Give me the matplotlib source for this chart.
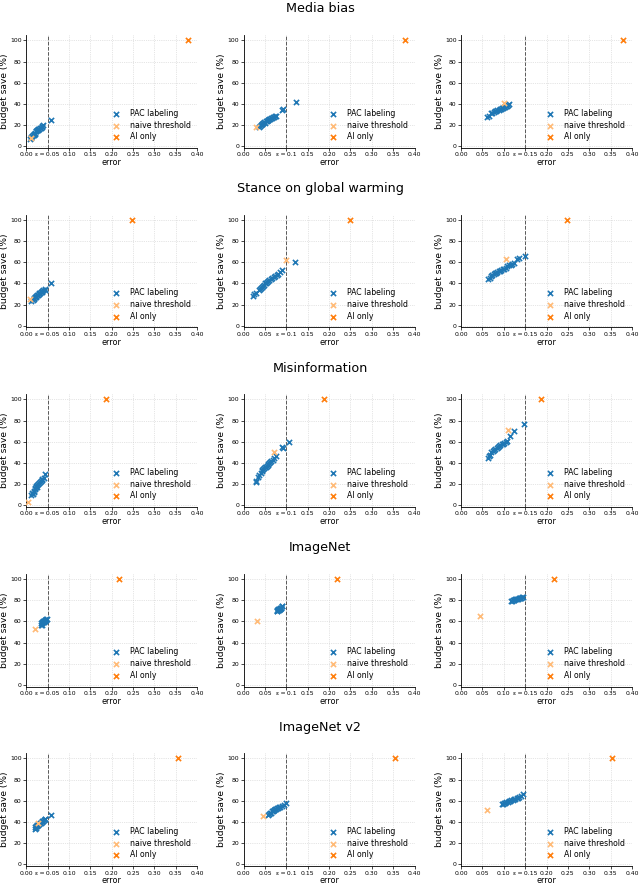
import numpy as np
import matplotlib
matplotlib.use('Agg')
import matplotlib.pyplot as plt

# dataset names (one row each) and error budgets (one column each)
datasets = ['Media bias', 'Stance on global warming', 'Misinformation', 'ImageNet', 'ImageNet v2']
epsilons = [0.05, 0.1, 0.15]
eps_labels = ['ε\u2009=\u20090.05', 'ε\u2009=\u20090.1', 'ε\u2009=\u20090.15']

# AI only: error of the model alone, budget save 100%
ai_err = [0.378, 0.248, 0.187, 0.218, 0.354]
ai_save = [100, 100, 100, 100, 100]

# naive threshold, one point per panel (rows x cols)
naive_err = [[0.012, 0.030, 0.100],
             [0.008, 0.100, 0.105],
             [0.003, 0.070, 0.110],
             [0.020, 0.032, 0.045],
             [0.027, 0.045, 0.060]]
naive_save = [[8, 18, 41],
              [25, 62, 63],
              [3, 50, 71],
              [53, 60, 65],
              [39, 46, 51]]

# PAC labeling runs
media_e05_err = [0.008, 0.010, 0.012, 0.014, 0.015, 0.017, 0.018, 0.020, 0.021, 0.022, 0.024, 0.025, 0.027, 0.028, 0.030, 0.032, 0.034, 0.036, 0.038, 0.040, 0.057]
media_e05_save = [7, 8, 9, 10, 11, 11, 12, 13, 12, 14, 14, 15, 15, 16, 16, 17, 17, 18, 19, 20, 25]
media_e10_err = [0.035, 0.038, 0.040, 0.042, 0.044, 0.046, 0.048, 0.050, 0.052, 0.054, 0.056, 0.058, 0.060, 0.062, 0.064, 0.066, 0.068, 0.070, 0.073, 0.075, 0.089, 0.092, 0.122]
media_e10_save = [18, 19, 20, 21, 21, 22, 23, 22, 24, 24, 25, 25, 26, 26, 27, 27, 28, 28, 29, 29, 34, 35, 42]
media_e15_err = [0.060, 0.065, 0.070, 0.073, 0.076, 0.079, 0.082, 0.085, 0.088, 0.090, 0.093, 0.095, 0.098, 0.100, 0.103, 0.105, 0.108, 0.110, 0.112]
media_e15_save = [28, 29, 31, 31, 32, 33, 33, 34, 34, 35, 35, 36, 36, 37, 37, 38, 38, 39, 40]

stance_e05_err = [0.012, 0.015, 0.017, 0.019, 0.020, 0.022, 0.024, 0.025, 0.027, 0.029, 0.030, 0.032, 0.034, 0.036, 0.038, 0.040, 0.043, 0.045, 0.057]
stance_e05_save = [23, 24, 25, 26, 27, 27, 28, 29, 29, 30, 31, 31, 32, 32, 33, 34, 34, 35, 40]
stance_e10_err = [0.022, 0.025, 0.030, 0.035, 0.038, 0.040, 0.042, 0.045, 0.047, 0.050, 0.052, 0.055, 0.058, 0.060, 0.063, 0.066, 0.070, 0.073, 0.077, 0.080, 0.085, 0.090, 0.120]
stance_e10_save = [28, 30, 31, 34, 35, 36, 37, 38, 39, 40, 40, 41, 42, 43, 44, 45, 46, 47, 48, 49, 51, 53, 60]
stance_e15_err = [0.063, 0.067, 0.070, 0.073, 0.076, 0.079, 0.082, 0.085, 0.088, 0.091, 0.094, 0.097, 0.100, 0.104, 0.108, 0.112, 0.116, 0.120, 0.125, 0.132, 0.135, 0.150]
stance_e15_save = [44, 45, 47, 48, 49, 50, 50, 51, 52, 52, 53, 54, 54, 55, 56, 57, 57, 58, 59, 63, 64, 66]

misinfo_e05_err = [0.012, 0.014, 0.015, 0.017, 0.018, 0.020, 0.021, 0.022, 0.024, 0.025, 0.026, 0.028, 0.030, 0.032, 0.034, 0.036, 0.038, 0.041, 0.045]
misinfo_e05_save = [10, 12, 11, 13, 14, 15, 16, 17, 18, 17, 19, 20, 21, 22, 23, 24, 25, 26, 30]
misinfo_e10_err = [0.028, 0.029, 0.033, 0.037, 0.040, 0.042, 0.044, 0.046, 0.048, 0.050, 0.052, 0.054, 0.056, 0.058, 0.060, 0.062, 0.065, 0.068, 0.072, 0.075, 0.090, 0.092, 0.105]
misinfo_e10_save = [22, 23, 27, 29, 31, 32, 33, 34, 35, 36, 36, 37, 38, 39, 40, 41, 42, 43, 45, 47, 55, 54, 60]
misinfo_e15_err = [0.063, 0.065, 0.068, 0.071, 0.074, 0.077, 0.080, 0.083, 0.086, 0.089, 0.092, 0.095, 0.098, 0.101, 0.104, 0.107, 0.115, 0.125, 0.148]
misinfo_e15_save = [45, 47, 48, 50, 51, 52, 53, 54, 55, 56, 57, 58, 58, 59, 60, 61, 65, 70, 77]

imnet_e05_err = [0.034, 0.035, 0.036, 0.037, 0.038, 0.039, 0.040, 0.041, 0.042, 0.043, 0.044, 0.045, 0.046, 0.047, 0.048]
imnet_e05_save = [57, 58, 57, 59, 58, 59, 60, 59, 60, 61, 60, 61, 62, 61, 62]
imnet_e10_err = [0.077, 0.078, 0.079, 0.080, 0.081, 0.082, 0.083, 0.084, 0.085, 0.086, 0.087, 0.088, 0.089, 0.090]
imnet_e10_save = [70, 71, 70, 71, 72, 71, 72, 72, 73, 72, 73, 73, 74, 74]
imnet_e15_err = [0.117, 0.119, 0.121, 0.123, 0.125, 0.127, 0.129, 0.131, 0.133, 0.135, 0.137, 0.139, 0.141, 0.143, 0.145]
imnet_e15_save = [79, 79, 80, 80, 80, 81, 81, 81, 81, 82, 82, 82, 82, 83, 83]

imnetv2_e05_err = [0.020, 0.021, 0.022, 0.023, 0.025, 0.026, 0.028, 0.030, 0.032, 0.034, 0.036, 0.038, 0.040, 0.042, 0.044, 0.045, 0.057]
imnetv2_e05_save = [33, 35, 34, 36, 36, 37, 37, 38, 39, 39, 40, 41, 41, 42, 43, 43, 47]
imnetv2_e10_err = [0.057, 0.060, 0.062, 0.064, 0.066, 0.068, 0.070, 0.072, 0.074, 0.076, 0.078, 0.080, 0.083, 0.086, 0.090, 0.095, 0.100]
imnetv2_e10_save = [47, 48, 49, 49, 50, 50, 51, 51, 52, 52, 53, 53, 54, 54, 55, 56, 58]
imnetv2_e15_err = [0.095, 0.097, 0.100, 0.103, 0.106, 0.109, 0.112, 0.115, 0.118, 0.121, 0.124, 0.127, 0.130, 0.133, 0.136, 0.140, 0.145]
imnetv2_e15_save = [57, 57, 58, 58, 59, 59, 60, 60, 61, 61, 62, 62, 63, 63, 64, 65, 66]

pac = [
    [(media_e05_err, media_e05_save), (media_e10_err, media_e10_save), (media_e15_err, media_e15_save)],
    [(stance_e05_err, stance_e05_save), (stance_e10_err, stance_e10_save), (stance_e15_err, stance_e15_save)],
    [(misinfo_e05_err, misinfo_e05_save), (misinfo_e10_err, misinfo_e10_save), (misinfo_e15_err, misinfo_e15_save)],
    [(imnet_e05_err, imnet_e05_save), (imnet_e10_err, imnet_e10_save), (imnet_e15_err, imnet_e15_save)],
    [(imnetv2_e05_err, imnetv2_e05_save), (imnetv2_e10_err, imnetv2_e10_save), (imnetv2_e15_err, imnetv2_e15_save)],
]

xticks = [0.0, 0.05, 0.10, 0.15, 0.20, 0.25, 0.30, 0.35, 0.40]

fig, axes = plt.subplots(5, 3, figsize=(6.4, 8.86), dpi=100)
fig.subplots_adjust(left=0.041, right=0.9875, top=0.9605, bottom=0.0225,
                    wspace=0.272, hspace=0.590)

for i in range(5):
    for j in range(3):
        ax = axes[i, j]
        e, s = pac[i][j]
        ax.scatter(e, s, marker='x', s=14, linewidths=1.2, color='#1f77b4',
                   label='PAC labeling', zorder=3)
        ax.scatter([naive_err[i][j]], [naive_save[i][j]], marker='x', s=14,
                   linewidths=1.2, color='#ffbb78', label='naive threshold', zorder=4)
        ax.scatter([ai_err[i]], [ai_save[i]], marker='x', s=14, linewidths=1.2,
                   color='#ff7f0e', label='AI only', zorder=4)
        ax.axvline(epsilons[j], color='0.35', linestyle='--', linewidth=0.7, zorder=2)

        ax.set_xlim(0, 0.40)
        ax.set_ylim(-1.5, 105)
        ax.set_xticks(xticks)
        labels = ['%.2f' % t for t in xticks]
        k = int(round(epsilons[j] / 0.05))
        labels[k] = eps_labels[j]
        ax.set_xticklabels(labels)
        ax.set_yticks([0, 20, 40, 60, 80, 100])
        ax.tick_params(labelsize=4.4, length=2, width=0.5, pad=1.2)
        ax.grid(True, linestyle=':', linewidth=0.5, color='0.8', zorder=0)
        ax.spines['top'].set_visible(False)
        ax.spines['right'].set_visible(False)
        for sp in ['left', 'bottom']:
            ax.spines[sp].set_linewidth(0.6)
        ax.set_xlabel('error', fontsize=5.8, labelpad=0.5)
        ax.set_ylabel('budget save (%)', fontsize=6.6, labelpad=1)
        ax.legend(loc='lower right', frameon=False, fontsize=5.6,
                  handletextpad=0.8, borderaxespad=0.45, labelspacing=0.35)

    pos = axes[i, 1].get_position()
    fig.text(0.5, pos.y1 + 26 / 886, datasets[i], ha='center', va='center', fontsize=9.2)

fig.savefig('out.png', dpi=100)
